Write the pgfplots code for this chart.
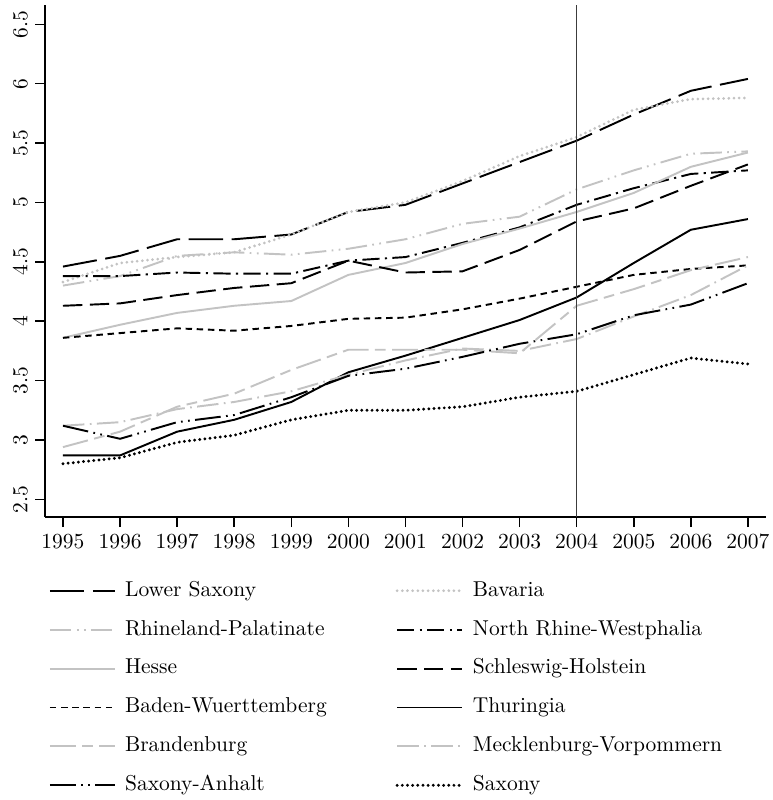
\documentclass[border=0pt]{standalone}
\usepackage{pgfplots}
\usepackage{pgfplotstable}
\pgfplotsset{compat=1.18}
\definecolor{lgray}{RGB}{195,195,195}
\definecolor{vline}{RGB}{60,60,60}
\pgfplotstableread{
year LS BY RP NW HE SH BW TH BB MV ST SN
1995 4.46 4.33 4.30 4.38 3.86 4.13 3.86 2.87 2.94 3.12 3.12 2.80
1996 4.55 4.49 4.38 4.38 3.97 4.15 3.90 2.87 3.07 3.15 3.01 2.85
1997 4.69 4.54 4.55 4.41 4.07 4.22 3.94 3.07 3.28 3.26 3.15 2.98
1998 4.69 4.58 4.58 4.40 4.13 4.28 3.92 3.17 3.39 3.32 3.21 3.04
1999 4.73 4.73 4.56 4.40 4.17 4.32 3.96 3.32 3.59 3.41 3.36 3.17
2000 4.92 4.92 4.61 4.51 4.39 4.51 4.02 3.57 3.76 3.55 3.54 3.25
2001 4.98 5.00 4.69 4.54 4.49 4.41 4.03 3.71 3.76 3.67 3.60 3.25
2002 5.16 5.18 4.82 4.66 4.65 4.42 4.10 3.86 3.76 3.77 3.70 3.28
2003 5.34 5.39 4.88 4.79 4.78 4.60 4.19 4.01 3.73 3.75 3.81 3.36
2004 5.52 5.55 5.11 4.98 4.92 4.84 4.29 4.20 4.13 3.85 3.89 3.41
2005 5.74 5.78 5.27 5.12 5.08 4.95 4.39 4.49 4.27 4.04 4.05 3.55
2006 5.94 5.87 5.41 5.24 5.30 5.14 4.44 4.77 4.43 4.22 4.14 3.69
2007 6.04 5.88 5.43 5.27 5.42 5.32 4.47 4.86 4.54 4.47 4.32 3.64
}\datatable
\begin{document}
\begin{tikzpicture}
\begin{axis}[
  at={(0,0)}, anchor=south west,
  scale only axis, width=335.3pt, height=238.1pt,
  xmin=1994.685, xmax=2007.315, ymin=2.351, ymax=6.661,
  axis lines*=left,
  axis line style={line width=0.7pt, black},
  xtick={1995,1996,...,2007}, ytick={2.5,3,...,6.5},
  tick align=outside, major tick length=4.65pt,
  tick style={line width=0.7pt, black},
  x tick label style={/pgf/number format/1000 sep={}, font=\fontsize{9.7}{11}\selectfont},
  y tick label style={rotate=90, anchor=south, font=\fontsize{9.7}{11}\selectfont},
  legend columns=2,
  legend cell align=left,
  legend style={draw=none, fill=none, at={(0.0055,-0.125)}, anchor=north west,
    inner sep=0pt, outer sep=0pt, row sep=9.1pt,
    nodes={inner sep=0pt, text height=7pt, text depth=2pt},
    /tikz/every odd column/.append style={column sep=4.3pt},
    /tikz/every even column/.append style={column sep=32pt}},
  legend image code/.code={\draw[#1] (0pt,0pt) -- (30.2pt,0pt);},
]
\addplot[black, line width=0.9pt, dash pattern=on 16pt off 4pt] table[x=year,y=LS]{\datatable};
\addlegendentry{Lower Saxony}
\addplot[lgray, line width=1.4pt, line cap=round, dash pattern=on 0pt off 2.4pt] table[x=year,y=BY]{\datatable};
\addlegendentry{Bavaria}
\addplot[lgray, line width=0.9pt, dash pattern=on 10pt off 2.5pt on 0.8pt off 2.5pt on 0.8pt off 2.5pt] table[x=year,y=RP]{\datatable};
\addlegendentry{Rhineland-Palatinate}
\addplot[black, line width=0.9pt, dash pattern=on 8pt off 2.5pt on 1pt off 2.5pt] table[x=year,y=NW]{\datatable};
\addlegendentry{North Rhine-Westphalia}
\addplot[lgray, line width=0.9pt] table[x=year,y=HE]{\datatable};
\addlegendentry{Hesse}
\addplot[black, line width=0.9pt, dash pattern=on 9pt off 3.5pt] table[x=year,y=SH]{\datatable};
\addlegendentry{Schleswig-Holstein}
\addplot[black, line width=0.9pt, dash pattern=on 3pt off 2.2pt] table[x=year,y=BW]{\datatable};
\addlegendentry{Baden-Wuerttemberg}
\addplot[black, line width=0.9pt] table[x=year,y=TH]{\datatable};
\addlegendentry{Thuringia}
\addplot[lgray, line width=0.9pt, dash pattern=on 12pt off 3pt on 5pt off 3pt] table[x=year,y=BB]{\datatable};
\addlegendentry{Brandenburg}
\addplot[lgray, line width=0.9pt, dash pattern=on 10pt off 2.5pt on 0.8pt off 2.5pt] table[x=year,y=MV]{\datatable};
\addlegendentry{Mecklenburg-Vorpommern}
\addplot[black, line width=0.9pt, dash pattern=on 12pt off 2.5pt on 0.8pt off 2.5pt on 0.8pt off 2.5pt] table[x=year,y=ST]{\datatable};
\addlegendentry{Saxony-Anhalt}
\addplot[black, line width=1.5pt, line cap=round, dash pattern=on 0pt off 2.4pt] table[x=year,y=SN]{\datatable};
\addlegendentry{Saxony}
\addplot[vline, line width=0.7pt, forget plot] coordinates {(2004,2.351) (2004,6.661)};
\end{axis}
\pgfresetboundingbox
\path (-20.93pt,-131.6pt) rectangle (338.6pt,240.5pt);
\end{tikzpicture}
\end{document}
